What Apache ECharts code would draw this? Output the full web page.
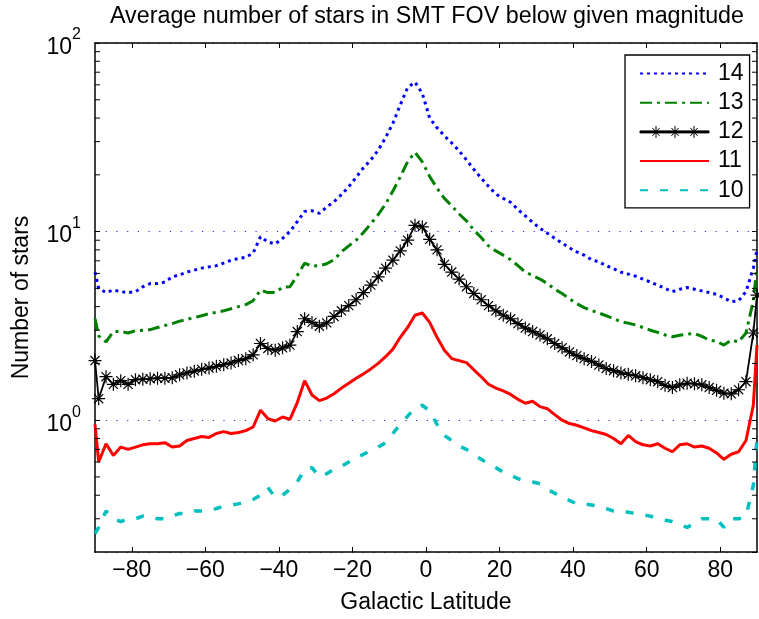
<!DOCTYPE html>
<html>
<head>
<meta charset="utf-8">
<script src="https://cdn.jsdelivr.net/npm/echarts@6/dist/echarts.min.js"></script>
<style>
  html, body { margin: 0; padding: 0; background: #fff; }
  #main { width: 759px; height: 619px; }
</style>
</head>
<body>
<div id="main"></div>
<script>
// galactic latitude of each sample
var lat = [-90, -89, -87, -85, -83, -81, -79, -77, -75, -73, -71,
  -69, -67, -65, -63, -61, -59, -57, -55, -53, -51,
  -49, -47, -45, -43, -41, -39, -37, -35, -33, -31,
  -29, -27, -25, -23, -21, -19, -17, -15, -13, -11,
  -9, -7, -5, -3, -1, 1, 3, 5, 7, 9,
  11, 13, 15, 17, 19, 21, 23, 25, 27, 29,
  31, 33, 35, 37, 39, 41, 43, 45, 47, 49,
  51, 53, 55, 57, 59, 61, 63, 65, 67, 69,
  71, 73, 75, 77, 79, 81, 83, 85, 87, 89, 90];

// average number of stars below magnitude 14 .. 10
var mag14 = [6.1, 5.0, 4.75, 4.9, 4.8, 4.75, 4.8, 5.1, 5.3, 5.3, 5.4,
  5.75, 5.9, 6.1, 6.25, 6.4, 6.5, 6.6, 6.8, 7.05, 7.2,
  7.3, 7.7, 9.4, 8.8, 8.6, 9.2, 10.0, 11.3, 12.8, 12.9,
  12.5, 13.5, 14.4, 15.7, 17.3, 19.4, 21.8, 24, 27, 31.5,
  37.5, 47, 58, 62, 54, 40, 35.5, 32.2, 29.5, 26.8,
  24, 21.4, 19.2, 17.4, 15.8, 15, 14.3, 13.1, 12.1, 11.2,
  10.4, 9.8, 9.2, 8.7, 8.2, 7.8, 7.5, 7.1, 6.9, 6.6,
  6.35, 6.1, 5.95, 5.8, 5.6, 5.4, 5.2, 5.0, 4.8, 4.95,
  5.05, 4.95, 4.85, 4.75, 4.65, 4.45, 4.25, 4.3, 4.8, 6.4, 8.0];

var mag13 = [3.46, 2.8, 2.6, 2.95, 2.95, 2.9, 2.98, 3.0, 3.02, 3.1, 3.18,
  3.25, 3.35, 3.42, 3.5, 3.58, 3.67, 3.73, 3.8, 3.9, 4.0,
  4.1, 4.3, 4.9, 4.75, 4.75, 5.07, 5.1, 5.85, 6.8, 6.55,
  6.6, 6.75, 7.1, 7.8, 8.4, 9.0, 9.9, 11.0, 12.3, 14.0,
  16.4, 19.5, 23.5, 26.3, 23.4, 19.6, 17, 15, 13.7, 12.4,
  11.4, 10.2, 9.3, 8.4, 7.9, 7.5, 7.1, 6.6, 6.1, 5.85,
  5.6, 5.3, 4.95, 4.7, 4.4, 4.15, 3.95, 3.82, 3.7, 3.58,
  3.45, 3.33, 3.27, 3.2, 3.1, 3.0, 2.92, 2.83, 2.77, 2.82,
  2.86, 2.88, 2.78, 2.66, 2.62, 2.5, 2.66, 2.6, 2.9, 4.3, 6.5];

var mag12 = [2.07, 1.3, 1.7, 1.55, 1.62, 1.55, 1.64, 1.65, 1.66, 1.67, 1.67,
  1.68, 1.74, 1.78, 1.82, 1.86, 1.89, 1.93, 1.97, 2.01, 2.07,
  2.12, 2.22, 2.55, 2.4, 2.35, 2.42, 2.5, 2.95, 3.45, 3.3,
  3.15, 3.28, 3.55, 3.8, 4.05, 4.35, 4.75, 5.2, 5.75, 6.4,
  7.05, 7.9, 9.0, 10.8, 10.6, 9.1, 8.0, 6.7, 6.1, 5.6,
  5.1, 4.7, 4.35, 4.05, 3.8, 3.6, 3.45, 3.25, 3.08, 2.95,
  2.83, 2.7, 2.55, 2.42, 2.3, 2.2, 2.12, 2.05, 1.96, 1.88,
  1.83, 1.78, 1.75, 1.72, 1.68, 1.64, 1.6, 1.53, 1.49, 1.54,
  1.57, 1.56, 1.54, 1.49, 1.44, 1.39, 1.38, 1.45, 1.6, 2.9, 4.6];

var mag11 = [0.95, 0.6, 0.75, 0.65, 0.72, 0.7, 0.72, 0.74, 0.75, 0.75, 0.76,
  0.72, 0.73, 0.78, 0.8, 0.82, 0.81, 0.85, 0.87, 0.85, 0.86,
  0.88, 0.92, 1.13, 1.02, 0.99, 1.04, 1.01, 1.24, 1.62, 1.36,
  1.27, 1.31, 1.38, 1.48, 1.57, 1.67, 1.76, 1.87, 2.0, 2.17,
  2.38, 2.75, 3.1, 3.6, 3.7, 3.3, 2.75, 2.35, 2.12, 2.07,
  2.02, 1.85, 1.7, 1.55, 1.48, 1.43, 1.37, 1.29, 1.23, 1.26,
  1.18, 1.15, 1.07, 1.0, 0.96, 0.94, 0.91, 0.88, 0.86, 0.84,
  0.8, 0.75, 0.83, 0.77, 0.74, 0.73, 0.75, 0.71, 0.68, 0.74,
  0.75, 0.72, 0.73, 0.71, 0.67, 0.62, 0.66, 0.68, 0.78, 1.2, 2.5];

var mag10 = [0.25, 0.27, 0.33, 0.3, 0.29, 0.3, 0.3, 0.31, 0.31, 0.3, 0.3,
  0.31, 0.32, 0.32, 0.33, 0.33, 0.33, 0.34, 0.35, 0.355, 0.36,
  0.37, 0.38, 0.4, 0.44, 0.39, 0.4, 0.43, 0.47, 0.55, 0.56,
  0.5, 0.52, 0.55, 0.57, 0.6, 0.63, 0.66, 0.69, 0.72, 0.76,
  0.85, 0.95, 1.05, 1.16, 1.2, 1.12, 0.95, 0.83, 0.78, 0.73,
  0.7, 0.66, 0.62, 0.59, 0.56, 0.53, 0.51, 0.49, 0.475, 0.47,
  0.46, 0.43, 0.41, 0.39, 0.375, 0.36, 0.36, 0.355, 0.35, 0.34,
  0.33, 0.33, 0.325, 0.32, 0.315, 0.31, 0.3, 0.295, 0.29, 0.28,
  0.27, 0.285, 0.3, 0.3, 0.3, 0.27, 0.3, 0.3, 0.31, 0.45, 0.8];

var xTicks = [-80, -60, -40, -20, 0, 20, 40, 60, 80];
var yMinorTicks = [0.3, 0.4, 0.5, 0.6, 0.7, 0.8, 0.9, 2, 3, 4, 5, 6, 7, 8, 9,
  20, 30, 40, 50, 60, 70, 80, 90];

var FONT = '"Liberation Sans", Arial, Helvetica, sans-serif';

function pairs(vals) {
  return lat.map(function (x, i) { return [x, vals[i]]; });
}

var chart = echarts.init(document.getElementById('main'));

var starPath = 'path://M5,0L5,10M0,5L10,5M1.5,1.5L8.5,8.5M1.5,8.5L8.5,1.5';

// legend icon for "12": a line with three asterisks
function star(cx) {
  return 'M' + cx + ',1L' + cx + ',13M' + (cx - 5) + ',7L' + (cx + 5) + ',7M' +
    (cx - 3.6) + ',3L' + (cx + 3.6) + ',11M' + (cx - 3.6) + ',11L' + (cx + 3.6) + ',3';
}
var legend12 = 'path://M0,6L69,6L69,8L0,8Z' + star(16) + star(35) + star(54);

var hideSym = { opacity: 0 };

chart.setOption({
  animation: false,
  backgroundColor: '#fff',
  title: {
    text: 'Average number of stars in SMT FOV below given magnitude',
    left: 427,
    textAlign: 'center',
    top: 5,
    padding: 0,
    textStyle: { fontFamily: FONT, fontSize: 23.3, fontWeight: 'normal', color: '#000' }
  },
  grid: { left: 95, right: 2, top: 43, bottom: 61, containLabel: false },
  legend: {
    data: [
      { name: '14', itemStyle: hideSym },
      { name: '13', itemStyle: hideSym },
      { name: '12', icon: legend12, itemStyle: { color: '#000', borderColor: '#000', borderWidth: 1 } },
      { name: '11', itemStyle: hideSym },
      { name: '10', itemStyle: hideSym }
    ],
    orient: 'vertical',
    left: 625,
    top: 55,
    padding: [7, 6, 6, 14],
    itemGap: 6.2,
    itemWidth: 69,
    itemHeight: 14,
    borderColor: '#000',
    borderWidth: 1.3,
    backgroundColor: '#fff',
    textStyle: { fontFamily: FONT, fontSize: 23, color: '#000', padding: [0, 0, 0, 4] }
  },
  xAxis: [{
    type: 'value',
    min: -90,
    max: 90,
    name: 'Galactic Latitude',
    nameLocation: 'middle',
    nameGap: 39,
    nameTextStyle: { fontFamily: FONT, fontSize: 23, color: '#000' },
    axisLine: { show: true, onZero: false, lineStyle: { color: '#000', width: 1.5 } },
    axisTick: { inside: true, length: 5, customValues: xTicks, lineStyle: { color: '#000' } },
    axisLabel: {
      customValues: xTicks,
      margin: 7,
      fontFamily: FONT, fontSize: 23, color: '#000',
      formatter: function (v) { return String(v).replace('-', '\u2212'); }
    },
    splitLine: { show: false }
  }, {
    type: 'value',
    position: 'top',
    min: -90,
    max: 90,
    axisLine: { show: true, onZero: false, lineStyle: { color: '#000', width: 1.5 } },
    axisTick: { inside: true, length: 5, customValues: xTicks, lineStyle: { color: '#000' } },
    axisLabel: { show: false },
    splitLine: { show: false }
  }],
  yAxis: [{
    type: 'log',
    logBase: 10,
    min: 0.2,
    max: 100,
    name: 'Number of stars',
    nameLocation: 'middle',
    nameGap: 62,
    nameTextStyle: { fontFamily: FONT, fontSize: 23, color: '#000' },
    axisLine: { show: true, onZero: false, lineStyle: { color: '#000', width: 1.5 } },
    axisTick: { inside: true, length: 5, lineStyle: { color: '#000' } },
    axisLabel: {
      margin: 14,
      showMinLabel: false,
      formatter: function (v) {
        return '{b|10}{s|' + Math.round(Math.log10(v)) + '}';
      },
      rich: {
        b: { fontFamily: FONT, fontSize: 23, color: '#000', lineHeight: 32, verticalAlign: 'bottom' },
        s: { fontFamily: FONT, fontSize: 16, color: '#000', lineHeight: 32, verticalAlign: 'top' }
      }
    },
    splitLine: { show: true, lineStyle: { color: '#2a2aff', width: 1.2, type: [1.2, 9.5] } }
  }, {
    type: 'log',
    logBase: 10,
    min: 0.2,
    max: 100,
    position: 'right',
    axisLine: { show: true, onZero: false, lineStyle: { color: '#000', width: 1.5 } },
    axisTick: { inside: true, length: 5, lineStyle: { color: '#000' } },
    axisLabel: { show: false },
    splitLine: { show: false }
  }],
  series: [
    {
      // minor ticks of the log axis, on both sides
      type: 'custom',
      name: 'minor',
      silent: true,
      z: 6,
      data: yMinorTicks.map(function (v) { return [0, v]; }),
      renderItem: function (params, api) {
        var v = api.value(1);
        var l = api.coord([-90, v]);
        var r = api.coord([90, v]);
        return {
          type: 'group',
          children: [
            { type: 'line', shape: { x1: l[0], y1: l[1], x2: l[0] + 5, y2: l[1] }, style: { stroke: '#000', lineWidth: 1 } },
            { type: 'line', shape: { x1: r[0] - 5, y1: r[1], x2: r[0], y2: r[1] }, style: { stroke: '#000', lineWidth: 1 } }
          ]
        };
      }
    },
    {
      name: '10', type: 'line', data: pairs(mag10), symbol: 'none',
      lineStyle: { color: '#00bfbf', width: 3.5, type: [8, 12], cap: 'butt' },
      itemStyle: { color: '#00bfbf' }
    },
    {
      name: '11', type: 'line', data: pairs(mag11), symbol: 'none',
      lineStyle: { color: '#ff0000', width: 3 },
      itemStyle: { color: '#ff0000' }
    },
    {
      name: '12', type: 'line', data: pairs(mag12),
      symbol: starPath, symbolSize: 13, showSymbol: true,
      lineStyle: { color: '#000', width: 1.8 },
      itemStyle: { color: '#000', borderColor: '#000', borderWidth: 1.2 }
    },
    {
      name: '13', type: 'line', data: pairs(mag13), symbol: 'none',
      lineStyle: { color: '#008000', width: 3, type: [12, 5, 3, 5], cap: 'butt' },
      itemStyle: { color: '#008000' }
    },
    {
      name: '14', type: 'line', data: pairs(mag14), symbol: 'none',
      lineStyle: { color: '#0000ff', width: 3, type: [3, 4], cap: 'butt' },
      itemStyle: { color: '#0000ff' }
    }
  ]
});
</script>
</body>
</html>
